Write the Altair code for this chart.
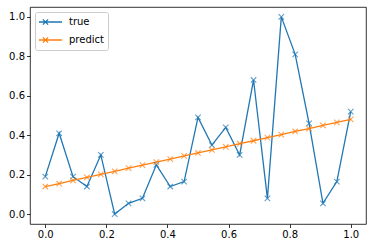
import altair as alt
import pandas as pd

x_vals = [0.0, 0.04545, 0.09091, 0.13636, 0.18182, 0.22727, 0.27273, 0.31818,
          0.36364, 0.40909, 0.45455, 0.5, 0.54545, 0.59091, 0.63636, 0.68182,
          0.72727, 0.77273, 0.81818, 0.86364, 0.90909, 0.95455, 1.0]
true_vals = [0.19, 0.41, 0.19, 0.14, 0.30, 0.00, 0.055, 0.08, 0.25, 0.14, 0.165,
             0.49, 0.35, 0.44, 0.30, 0.68, 0.08, 1.00, 0.81, 0.46, 0.055, 0.165, 0.52]
pred_vals = [0.14, 0.155, 0.171, 0.186, 0.202, 0.217, 0.233, 0.248, 0.264, 0.279,
             0.295, 0.31, 0.326, 0.341, 0.357, 0.372, 0.388, 0.403, 0.419, 0.434,
             0.45, 0.465, 0.48]
series_names = ["true", "predict"]
series_colors = ["#1f77b4", "#ff7f0e"]

rows = []
for i, xv in enumerate(x_vals):
    rows.append({"x": xv, "y": true_vals[i], "s": "true", "o": 0})
for i, xv in enumerate(x_vals):
    rows.append({"x": xv, "y": pred_vals[i], "s": "predict", "o": 1})
df = pd.DataFrame(rows)

XPATH = "M-1,-1L1,1M-1,1L1,-1"
LEGPATH = "M-1.2,0L3.4,0M-0.42,-0.52L0.62,0.52M-0.42,0.52L0.62,-0.52"

xs = alt.X("x:Q", scale=alt.Scale(domain=[-0.05, 1.05], nice=False, zero=False),
           axis=alt.Axis(values=[0, 0.2, 0.4, 0.6, 0.8, 1.0], format=".1f", title=None))
ys = alt.Y("y:Q", scale=alt.Scale(domain=[-0.05, 1.05], nice=False, zero=False),
           axis=alt.Axis(values=[0, 0.2, 0.4, 0.6, 0.8, 1.0], format=".1f", title=None))
color = alt.Color("s:N", scale=alt.Scale(domain=series_names, range=series_colors),
                  legend=alt.Legend(title=None, orient="none", legendX=5, legendY=5,
                                    symbolType=LEGPATH, symbolSize=100,
                                    symbolStrokeWidth=1.3, symbolFillColor="transparent",
                                    labelFontSize=10, labelFont="DejaVu Sans",
                                    labelColor="black", padding=4, rowPadding=6,
                                    labelOffset=18, strokeColor="#cccccc",
                                    fillColor="white", cornerRadius=2))

lines = alt.Chart(df).mark_line(strokeWidth=1.3).encode(
    x=xs, y=ys, color=color, order="o:Q", detail="s:N")
points = alt.Chart(df).mark_point(shape=XPATH, size=30, filled=False, strokeWidth=1.1).encode(
    x=xs, y=ys,
    color=alt.Color("s:N", scale=alt.Scale(domain=series_names, range=series_colors), legend=None))

chart = alt.layer(lines, points).properties(
    width=336, height=217,
    autosize=alt.AutoSizeParams(type="none"),
    padding={"left": 30, "top": 7, "right": 6, "bottom": 24},
    background="white",
).configure_view(stroke="black", strokeWidth=0.8).configure_axis(
    domain=False, grid=False, tickSize=3.5, tickWidth=0.8, tickColor="black",
    labelColor="black", labelFont="DejaVu Sans", labelFontSize=10, labelPadding=2,
)

chart.save("out.html", embed_options={"renderer": "svg", "actions": False})
